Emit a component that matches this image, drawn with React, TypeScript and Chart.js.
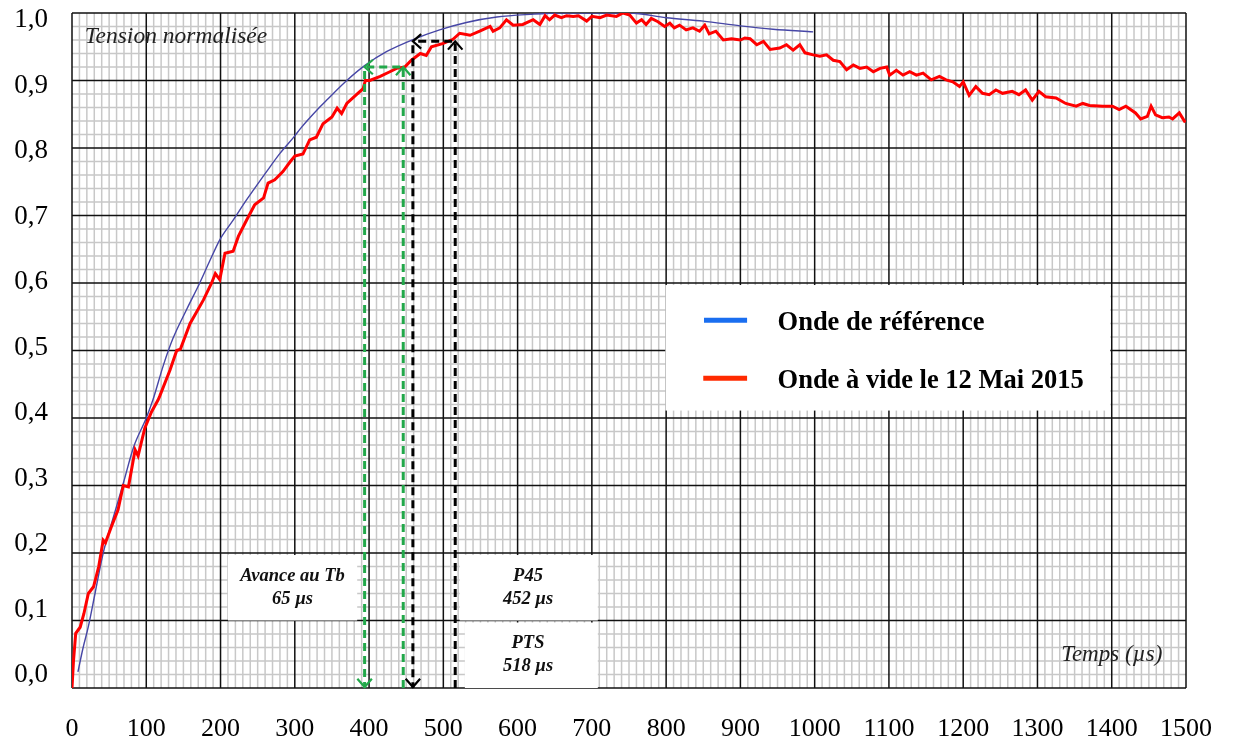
import React, { useEffect, useRef } from 'react';
import { Chart, registerables } from 'chart.js';

Chart.register(...registerables);

// ---------- data ----------
const refTimes = [8, 15, 22, 31, 42, 56, 69, 83, 100, 109, 123, 136, 154, 172, 186, 199, 217, 235, 262, 280, 300, 307, 334, 343, 370, 394, 424, 460, 495, 531, 572, 617, 657, 700, 751, 800, 850, 900, 944, 998];
const refValues = [0.024, 0.06, 0.091, 0.14, 0.2, 0.254, 0.303, 0.357, 0.4, 0.427, 0.478, 0.518, 0.56, 0.6, 0.634, 0.664, 0.693, 0.723, 0.765, 0.792, 0.818, 0.828, 0.861, 0.871, 0.9, 0.922, 0.943, 0.961, 0.975, 0.986, 0.994, 0.998, 1.0, 1.0, 1.0, 0.993, 0.988, 0.981, 0.976, 0.972];

const testTimes = [0, 2, 5, 11, 16, 22, 29, 36, 42, 45, 53, 62, 69, 76, 85, 89, 98, 107, 116, 118, 132, 141, 146, 159, 177, 188, 193, 199, 206, 217, 224, 235, 246, 258, 264, 273, 284, 294, 300, 311, 320, 329, 338, 350, 357, 363, 370, 383, 392, 395, 401, 415, 428, 437, 448, 457, 469, 477, 484, 500, 513, 522, 536, 549, 563, 567, 576, 585, 594, 607, 621, 630, 637, 643, 650, 659, 666, 675, 682, 693, 700, 711, 720, 733, 742, 751, 760, 767, 773, 780, 789, 798, 805, 811, 818, 827, 836, 845, 852, 858, 867, 877, 888, 900, 906, 913, 922, 931, 940, 953, 962, 971, 980, 987, 998, 1007, 1016, 1025, 1034, 1043, 1052, 1061, 1070, 1079, 1088, 1097, 1101, 1110, 1119, 1128, 1137, 1146, 1157, 1168, 1177, 1186, 1195, 1200, 1208, 1217, 1226, 1235, 1244, 1253, 1266, 1275, 1284, 1293, 1302, 1311, 1325, 1338, 1352, 1361, 1370, 1388, 1401, 1410, 1419, 1432, 1439, 1448, 1453, 1459, 1468, 1477, 1482, 1491, 1499];
const testValues = [0.0, 0.04, 0.081, 0.09, 0.11, 0.14, 0.15, 0.18, 0.219, 0.215, 0.239, 0.264, 0.3, 0.298, 0.353, 0.344, 0.385, 0.409, 0.427, 0.432, 0.471, 0.5, 0.502, 0.54, 0.575, 0.6, 0.614, 0.605, 0.644, 0.647, 0.669, 0.693, 0.716, 0.726, 0.748, 0.753, 0.765, 0.78, 0.788, 0.791, 0.812, 0.816, 0.836, 0.846, 0.859, 0.851, 0.866, 0.879, 0.888, 0.9, 0.9, 0.906, 0.913, 0.918, 0.92, 0.93, 0.94, 0.937, 0.95, 0.955, 0.961, 0.97, 0.967, 0.973, 0.98, 0.973, 0.978, 0.99, 0.982, 0.983, 0.99, 0.983, 0.996, 0.99, 0.997, 0.993, 0.996, 0.995, 0.996, 0.988, 0.995, 0.993, 0.997, 0.995, 1.0, 0.997, 0.985, 0.99, 0.983, 0.992, 0.987, 0.98, 0.985, 0.978, 0.982, 0.975, 0.978, 0.973, 0.982, 0.969, 0.973, 0.96, 0.962, 0.96, 0.963, 0.962, 0.953, 0.958, 0.946, 0.948, 0.953, 0.945, 0.953, 0.941, 0.938, 0.936, 0.938, 0.93, 0.928, 0.916, 0.923, 0.918, 0.92, 0.913, 0.918, 0.92, 0.908, 0.915, 0.908, 0.913, 0.908, 0.911, 0.901, 0.906, 0.901, 0.898, 0.891, 0.898, 0.878, 0.891, 0.881, 0.879, 0.886, 0.881, 0.884, 0.879, 0.886, 0.871, 0.884, 0.876, 0.874, 0.866, 0.862, 0.866, 0.863, 0.862, 0.862, 0.857, 0.862, 0.852, 0.843, 0.847, 0.862, 0.849, 0.845, 0.846, 0.843, 0.852, 0.838];

const xTickLabels = ['0', '100', '200', '300', '400', '500', '600', '700', '800', '900', '1000', '1100', '1200', '1300', '1400', '1500'];
const yTickLabels = ['0,0', '0,1', '0,2', '0,3', '0,4', '0,5', '0,6', '0,7', '0,8', '0,9', '1,0'];

const seriesNames = ['Onde de référence', 'Onde à vide le 12 Mai 2015'];
const axisTitles = ['Tension normalisée', 'Temps (µs)'];

// times where each wave reaches the marker levels
const advanceTimes = [394, 446];
const advanceLevel = 0.92;
const ptsTimes = [459, 516];
const ptsLevel = 0.958;
const noteTexts = [['Avance au Tb', '65 µs'], ['P45', '452 µs'], ['PTS', '518 µs']];

// ---------- styles ----------
const SERIF = "'Liberation Serif', 'Times New Roman', serif";
const X_MAX = 1500;
const X_MINOR = 10;
const Y_MINOR_COUNT = 50;
const GREEN = '#22a84a';

function chevron(ctx: CanvasRenderingContext2D, tx: number, ty: number, ang: number, size: number) {
  const s = 0.72;
  ctx.beginPath();
  ctx.moveTo(tx - size * Math.cos(ang - s), ty - size * Math.sin(ang - s));
  ctx.lineTo(tx, ty);
  ctx.lineTo(tx - size * Math.cos(ang + s), ty - size * Math.sin(ang + s));
  ctx.stroke();
}

const paperPlugin = {
  id: 'paper',
  beforeDatasetsDraw(chart: any) {
    const { ctx, chartArea: a, scales } = chart;
    const x = scales.x, y = scales.y;
    ctx.save();
    // minor grid
    ctx.strokeStyle = '#c8c8c8';
    ctx.lineWidth = 1.5;
    ctx.beginPath();
    for (let t = 0; t <= X_MAX; t += X_MINOR) {
      if (t % 100 === 0) continue;
      const p = x.getPixelForValue(t);
      ctx.moveTo(p, a.top); ctx.lineTo(p, a.bottom);
    }
    for (let i = 0; i <= Y_MINOR_COUNT; i++) {
      if (i % 5 === 0) continue;
      const p = y.getPixelForValue(i * 0.02);
      ctx.moveTo(a.left, p); ctx.lineTo(a.right, p);
    }
    ctx.stroke();
    // major grid
    ctx.strokeStyle = '#111';
    ctx.lineWidth = 1.5;
    ctx.beginPath();
    for (let t = 0; t <= X_MAX; t += 100) {
      const p = x.getPixelForValue(t);
      ctx.moveTo(p, a.top); ctx.lineTo(p, a.bottom);
    }
    for (let i = 0; i <= 10; i++) {
      const p = y.getPixelForValue(i / 10);
      ctx.moveTo(a.left, p); ctx.lineTo(a.right, p);
    }
    ctx.stroke();
    // white boxes
    ctx.fillStyle = '#fff';
    const rect = (x0: number, x1: number, y0: number, y1: number) => {
      const l = x.getPixelForValue(x0), r = x.getPixelForValue(x1);
      const t = y.getPixelForValue(y1), b = y.getPixelForValue(y0);
      ctx.fillRect(l, t, r - l, b - t);
    };
    rect(799, 1398, 0.411, 0.597);
    rect(210, 384, 0.1, 0.197);
    rect(522, 708, 0.1, 0.197);
    rect(529, 708, 0.0, 0.097);
    ctx.restore();
  },
  afterDatasetsDraw(chart: any) {
    const { ctx, scales } = chart;
    const x = scales.x, y = scales.y;
    ctx.save();
    const marker = (times: number[], level: number, color: string) => {
      const xl = x.getPixelForValue(times[0]);
      const xr = x.getPixelForValue(times[1]);
      const yl = y.getPixelForValue(level);
      const y0 = y.getPixelForValue(0);
      ctx.strokeStyle = color;
      ctx.lineWidth = 3;
      ctx.setLineDash([8, 5]);
      ctx.beginPath();
      ctx.moveTo(xl, yl + 4); ctx.lineTo(xl, y0);
      ctx.moveTo(xr, y0); ctx.lineTo(xr, yl + 2);
      ctx.moveTo(xr - 3, yl); ctx.lineTo(xl + 2, yl);
      ctx.stroke();
      ctx.setLineDash([]);
      ctx.lineWidth = 2.2;
      chevron(ctx, xl, y0 - 1, Math.PI / 2, 11);
      chevron(ctx, xr, yl, -Math.PI / 2, 11);
      chevron(ctx, xl, yl, Math.PI, 11);
    };
    marker(advanceTimes, advanceLevel, GREEN);
    marker(ptsTimes, ptsLevel, '#000');

    // legend
    ctx.lineWidth = 5;
    ctx.strokeStyle = '#1a6ef0';
    ctx.beginPath();
    ctx.moveTo(x.getPixelForValue(851), y.getPixelForValue(0.545));
    ctx.lineTo(x.getPixelForValue(909), y.getPixelForValue(0.545));
    ctx.stroke();
    ctx.strokeStyle = '#ff2a00';
    ctx.beginPath();
    ctx.moveTo(x.getPixelForValue(850), y.getPixelForValue(0.459));
    ctx.lineTo(x.getPixelForValue(909), y.getPixelForValue(0.459));
    ctx.stroke();
    ctx.fillStyle = '#000';
    ctx.font = `bold 26.5px ${SERIF}`;
    ctx.textBaseline = 'middle';
    ctx.textAlign = 'left';
    ctx.fillText(seriesNames[0], x.getPixelForValue(950), y.getPixelForValue(0.54));
    ctx.fillText(seriesNames[1], x.getPixelForValue(950), y.getPixelForValue(0.455));

    // notes
    ctx.font = `bold italic 18.5px ${SERIF}`;
    ctx.fillStyle = '#111';
    ctx.textAlign = 'center';
    const note = (lines: string[], cx: number, cy: number) => {
      const px = x.getPixelForValue(cx), py = y.getPixelForValue(cy);
      ctx.fillText(lines[0], px, py - 11.5);
      ctx.fillText(lines[1], px, py + 11.5);
    };
    note(noteTexts[0], 297, 0.149);
    note(noteTexts[1], 614, 0.149);
    note(noteTexts[2], 614, 0.05);

    // axis titles
    ctx.fillStyle = '#222';
    ctx.textAlign = 'left';
    ctx.font = `italic 23.5px ${SERIF}`;
    ctx.fillText(axisTitles[0], x.getPixelForValue(17), y.getPixelForValue(0.964));
    ctx.font = `italic 23px ${SERIF}`;
    ctx.fillText(axisTitles[1], x.getPixelForValue(1332), y.getPixelForValue(0.049));

    // y tick labels (slightly compressed like the original sheet)
    ctx.font = `27px ${SERIF}`;
    ctx.fillStyle = '#000';
    ctx.textAlign = 'right';
    const top = y.getPixelForValue(1) + 7;
    const bottom = y.getPixelForValue(0) - 13;
    yTickLabels.forEach((lab, i) => {
      const py = bottom + (top - bottom) * (i / (yTickLabels.length - 1));
      ctx.fillText(lab, 48, py);
    });
    ctx.restore();
  },
};

export default function App() {
  const ref = useRef<HTMLCanvasElement>(null);
  useEffect(() => {
    document.body.style.margin = '0';
    const chart = new Chart(ref.current!, {
      type: 'line',
      data: {
        datasets: [
          {
            label: seriesNames[1],
            data: testTimes.map((t, i) => ({ x: t, y: testValues[i] })),
            borderColor: '#ff0000',
            borderWidth: 3,
            pointRadius: 0,
            tension: 0,
            fill: false,
          },
          {
            label: seriesNames[0],
            data: refTimes.map((t, i) => ({ x: t, y: refValues[i] })),
            borderColor: '#4646a6',
            borderWidth: 1.4,
            pointRadius: 0,
            cubicInterpolationMode: 'monotone',
            fill: false,
          },
        ],
      },
      options: {
        animation: false,
        responsive: true,
        maintainAspectRatio: false,
        layout: { padding: { top: 13, right: 48, left: 0, bottom: 0 } },
        plugins: { legend: { display: false }, title: { display: false }, tooltip: { enabled: false } },
        scales: {
          x: {
            type: 'linear',
            min: 0,
            max: X_MAX,
            grid: { display: false },
            border: { display: false },
            ticks: {
              stepSize: 100,
              autoSkip: false,
              maxRotation: 0,
              padding: 18,
              color: '#000',
              font: { family: SERIF, size: 26 },
              callback: (v: any) => xTickLabels[Math.round(Number(v) / 100)] ?? '',
            },
            afterFit: (s: any) => { s.height = 49; },
          },
          y: {
            type: 'linear',
            min: 0,
            max: 1,
            grid: { display: false },
            border: { display: false },
            ticks: { display: false, stepSize: 0.1 },
            afterFit: (s: any) => { s.width = 72; },
          },
        },
      },
      plugins: [paperPlugin],
    } as any);
    return () => chart.destroy();
  }, []);
  return (
    <div style={{ position: 'relative', width: 1234, height: 737 }}>
      <canvas ref={ref} />
    </div>
  );
}
